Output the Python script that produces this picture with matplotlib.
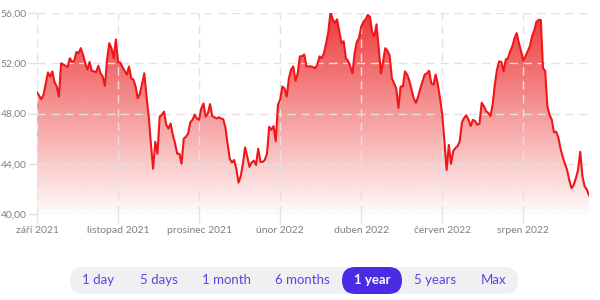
import numpy as np
import matplotlib
matplotlib.use("Agg")
import matplotlib.pyplot as plt
from matplotlib.patches import FancyBboxPatch, PathPatch

plt.rcParams['font.family'] = ['Lato', 'DejaVu Sans']

# trading-day index and closing price
days = [0, 1, 2, 3, 5, 6, 7, 8, 9, 10, 11, 12, 14, 15, 16, 17, 18, 19, 20, 21,
        22, 23, 24, 25, 26, 27, 28, 29, 30, 31, 32, 33, 34, 35, 36, 37, 38, 39, 41, 42,
        43, 44, 45, 46, 47, 48, 49, 50, 51, 52, 53, 54, 55, 56, 57, 58, 59, 60, 61, 62,
        63, 64, 65, 66, 67, 68, 69, 70, 71, 72, 73, 74, 75, 76, 77, 78, 79, 80, 81, 82,
        83, 84, 85, 86, 87, 88, 89, 90, 91, 92, 93, 94, 95, 96, 97, 98, 99, 100, 101, 102,
        103, 104, 105, 106, 107, 108, 109, 110, 111, 112, 113, 114, 115, 116, 117, 118, 119, 120, 121, 122,
        123, 124, 125, 126, 127, 128, 129, 130, 131, 132, 133, 134, 135, 136, 137, 138, 139, 140, 141, 142,
        143, 144, 145, 146, 147, 148, 149, 150, 151, 152, 153, 154, 155, 156, 157, 158, 159, 160, 161, 162,
        163, 164, 165, 166, 167, 168, 169, 170, 171, 172, 173, 174, 175, 176, 177, 178, 179, 180, 181, 182,
        183, 184, 185, 186, 187, 188, 189, 190, 191, 192, 193, 194, 195, 196, 197, 198, 199, 200, 201, 202,
        203, 204, 205, 206, 207, 208, 209, 210, 211, 212, 213, 214, 215, 216, 217, 218, 219, 220, 221, 222,
        223, 224, 225, 226, 227, 228, 229, 230, 231, 232, 233, 234, 235, 236, 237, 238, 239, 240, 241, 242,
        243, 244, 245, 246, 247, 248, 249, 250, 251, 252]
prices = [49.67, 49.4, 49.14, 49.5, 51.27, 50.95, 51.35, 50.5, 50.15, 49.35, 52.0, 51.9, 51.7, 52.4, 52.1, 52.2, 52.9, 52.8, 53.2, 52.7,
          52.0, 51.5, 52.1, 51.4, 51.35, 51.3, 51.8, 51.2, 50.95, 50.2, 52.3, 53.6, 53.2, 52.4, 53.9, 52.1, 52.05, 51.7, 51.1, 51.75,
          50.8, 50.7, 50.15, 49.2, 49.6, 50.4, 51.2, 49.35, 47.75, 45.6, 43.6, 45.75, 44.8, 47.75, 47.9, 48.15, 47.1, 46.8, 47.2, 46.3,
          45.65, 44.8, 44.8, 44.0, 46.0, 46.15, 46.4, 47.3, 47.5, 47.9, 47.6, 47.5, 48.4, 48.8, 47.75, 48.0, 48.75, 47.8, 47.7, 47.6,
          47.7, 47.6, 47.55, 46.9, 45.6, 44.4, 44.1, 44.3, 43.6, 42.5, 43.0, 44.0, 45.3, 44.55, 43.75, 44.1, 44.25, 43.9, 45.2, 44.15,
          44.15, 44.3, 44.8, 46.95, 46.7, 47.0, 45.8, 48.7, 49.1, 50.15, 50.0, 49.35, 50.8, 51.5, 51.75, 50.6, 51.2, 52.55, 52.55, 52.7,
          51.75, 51.75, 51.75, 51.7, 51.6, 51.9, 52.55, 52.4, 52.8, 53.6, 54.5, 56.1, 55.5, 55.2, 55.5, 54.55, 53.6, 53.75, 52.4, 52.2,
          51.75, 51.2, 52.8, 53.7, 54.0, 54.9, 55.3, 55.5, 55.85, 55.7, 54.5, 54.15, 55.1, 53.2, 51.2, 52.15, 53.2, 53.0, 52.6, 50.8,
          50.4, 50.0, 48.45, 50.15, 50.15, 51.35, 51.1, 50.6, 49.9, 49.2, 48.85, 49.35, 50.0, 50.55, 51.1, 51.2, 51.4, 50.4, 50.3, 51.1,
          50.3, 49.2, 47.9, 45.8, 43.5, 45.5, 44.0, 45.0, 45.25, 45.4, 45.8, 47.3, 47.65, 47.85, 47.5, 47.0, 47.5, 47.4, 47.1, 47.2,
          48.85, 48.6, 48.2, 48.05, 47.8, 48.7, 50.3, 51.5, 52.15, 52.1, 51.35, 52.3, 52.4, 52.95, 53.35, 54.0, 54.4, 53.6, 52.95, 52.2,
          52.55, 52.95, 53.35, 54.15, 54.6, 55.3, 55.45, 55.45, 51.6, 51.4, 48.55, 47.9, 47.5, 46.5, 46.55, 46.1, 45.2, 44.55, 44.0, 43.5,
          42.7, 42.05, 42.3, 42.85, 43.5, 44.95, 43.0, 42.2, 41.95, 41.5]

tick_days = [0, 37, 74, 111, 148, 185, 222]
tick_labels = ['září 2021', 'listopad 2021', 'prosinec 2021', 'únor 2022',
               'duben 2022', 'červen 2022', 'srpen 2022']
y_ticks = [40, 44, 48, 52, 56]
ranges = ['1 day', '5 days', '1 month', '6 months', '1 year', '5 years', 'Max']
selected = '1 year'

ymin, ymax = 40, 56
xmin, xmax = 0, 252

fig = plt.figure(figsize=(6, 3), dpi=100)
ax = fig.add_axes([37 / 600, 1 - 214 / 300, (589 - 37) / 600, (214 - 13) / 300])

# gradient fill under the line
fill = ax.fill_between(days, prices, ymin, color='none', lw=0)
clip = PathPatch(fill.get_paths()[0], transform=ax.transData, facecolor='none', edgecolor='none')
ax.add_patch(clip)
n = 256
grad = np.zeros((n, 1, 4))
grad[:, 0, 0] = 236 / 255
grad[:, 0, 1] = 40 / 255
grad[:, 0, 2] = 40 / 255
grad[:, 0, 3] = np.linspace(0.02, 0.92, n)
im = ax.imshow(grad, extent=[xmin, xmax, ymin, ymax], origin='lower', aspect='auto', zorder=1)
im.set_clip_path(clip)

ax.plot(days, prices, color='#f0161a', lw=1.5, zorder=3, solid_joinstyle='round')

ax.set_xlim(xmin, xmax)
ax.set_ylim(ymin, ymax)
ax.set_xticks(tick_days)
ax.set_xticklabels(tick_labels)
ax.set_yticks(y_ticks)
ax.set_yticklabels([f'{v:.2f}'.replace('.', ',') for v in y_ticks])
ax.grid(True, color='#e2e2e2', lw=1, ls=(0, (6, 4)), zorder=0)
ax.tick_params(axis='both', colors='#e2e2e2', labelcolor='#808080', labelsize=7.5, length=6.5, width=1)
ax.tick_params(axis='y', pad=1)
ax.tick_params(axis='x', pad=2)
for s in ax.spines.values():
    s.set_visible(False)
ax.set_facecolor('white')

# range selector bar
bx = fig.add_axes([0, 0, 1, 45 / 300])
bx.set_xlim(0, 600)
bx.set_ylim(300, 255)
bx.axis('off')
bx.add_patch(FancyBboxPatch((70, 267), 448, 27, boxstyle='round,pad=0,rounding_size=13.5',
                            facecolor='#f0f0f2', edgecolor='none'))
centers = [98, 158.5, 226, 302, 372, 435.5, 494]
for lab, cx in zip(ranges, centers):
    if lab == selected:
        bx.add_patch(FancyBboxPatch((342, 267), 60, 27, boxstyle='round,pad=0,rounding_size=13.5',
                                    facecolor='#4b2be3', edgecolor='none'))
        bx.text(cx, 280.5, lab, color='white', fontsize=9.5, fontweight='bold', ha='center', va='center')
    else:
        bx.text(cx, 280.5, lab, color='#5b45e0', fontsize=9.5, ha='center', va='center')

fig.savefig('out.png', dpi=100)
